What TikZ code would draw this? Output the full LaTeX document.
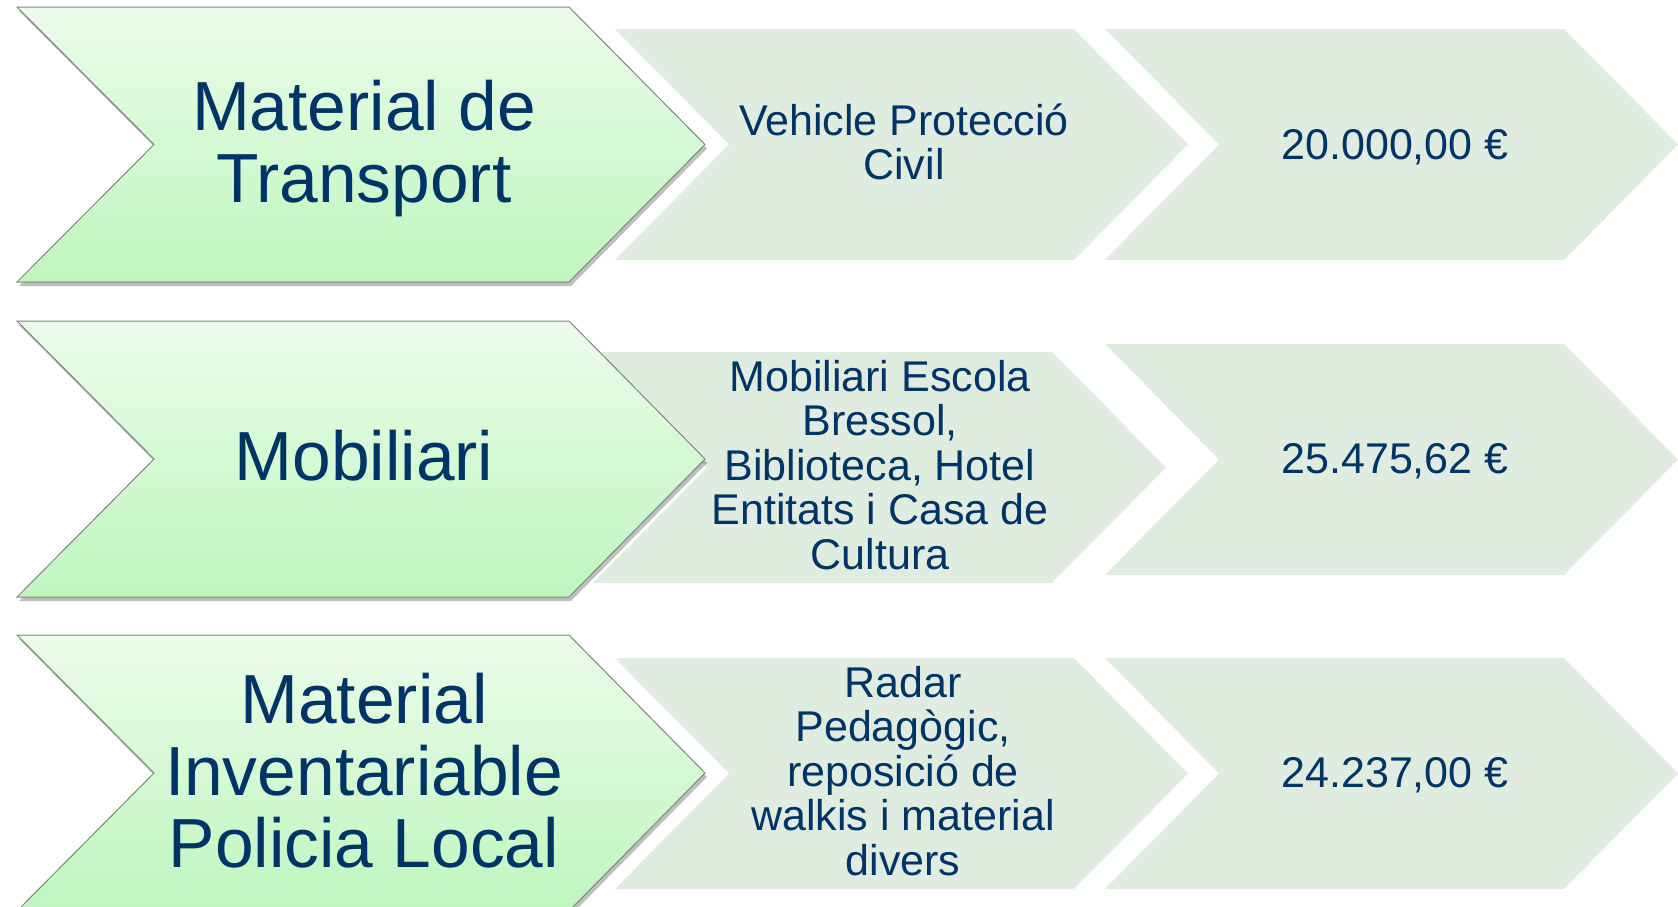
\documentclass[tikz,border=0pt]{standalone}
\usepackage{fontspec}
\setmainfont{Liberation Sans}
\usetikzlibrary{shadows}

\definecolor{navytext}{RGB}{0,51,102}
\definecolor{palefill}{RGB}{224,236,224}
\definecolor{lighttop}{RGB}{236,252,234}
\definecolor{greenbottom}{RGB}{190,246,190}
\definecolor{edgegray}{RGB}{125,135,125}

\begin{document}
\begin{tikzpicture}[x=1pt, y=-1pt,
    catarrow/.style = {draw=edgegray, line width=1pt, top color=lighttop, bottom color=greenbottom,
      drop shadow={shadow xshift=2pt, shadow yshift=-4pt, fill=black, opacity=0.25}},
    palearrow/.style = {fill=palefill},
    cat/.style = {text=navytext, align=center, font=\fontsize{69.5}{72}\selectfont},
    item/.style = {text=navytext, align=center, font=\fontsize{43}{44.5}\selectfont},
    cost/.style = {text=navytext, font=\fontsize{43}{44.5}\selectfont}]
    \clip (0,0) rectangle (1678,906);
    \useasboundingbox (0,0) rectangle (1678,906);
    % pale chevrons (behind)
    \fill[palearrow] (615,29) -- ++(459,0) -- ++(114,115.5) -- ++(-114,115.5) -- ++(-459,0) -- ++(114,-115.5) -- cycle;
    \fill[palearrow] (1105,29) -- ++(459,0) -- ++(114,115.5) -- ++(-114,115.5) -- ++(-459,0) -- ++(114,-115.5) -- cycle;
    \fill[palearrow] (593,352) -- ++(459,0) -- ++(114,115.5) -- ++(-114,115.5) -- ++(-459,0) -- ++(114,-115.5) -- cycle;
    \fill[palearrow] (1105,344) -- ++(459,0) -- ++(114,115.5) -- ++(-114,115.5) -- ++(-459,0) -- ++(114,-115.5) -- cycle;
    \fill[palearrow] (615,658) -- ++(459,0) -- ++(114,115.5) -- ++(-114,115.5) -- ++(-459,0) -- ++(114,-115.5) -- cycle;
    \fill[palearrow] (1105,658) -- ++(459,0) -- ++(114,115.5) -- ++(-114,115.5) -- ++(-459,0) -- ++(114,-115.5) -- cycle;
    % green chevrons
    \draw[catarrow] (17,7) -- ++(552,0) -- ++(136,137.5) -- ++(-136,137.5) -- ++(-552,0) -- ++(137,-137.5) -- cycle;
    \draw[catarrow] (17,321) -- ++(552,0) -- ++(136,138) -- ++(-136,138) -- ++(-552,0) -- ++(137,-138) -- cycle;
    \draw[catarrow] (17,635) -- ++(552,0) -- ++(136,138) -- ++(-136,138) -- ++(-552,0) -- ++(137,-138) -- cycle;
    % texts
    \node[cat] (transport) at (364,149) {Material de\\Transport};
    \node[item] (vehicle) at (904,142) {Vehicle Protecció\\Civil};
    \node[cost] (cost1) at (1395,147) {20.000,00 €};
    \node[cat] (mobiliari) at (364,456) {Mobiliari};
    \node[item] (escola) at (880,465) {Mobiliari Escola\\Bressol,\\Biblioteca, Hotel\\Entitats i Casa de\\Cultura};
    \node[cost] (cost2) at (1395,461) {25.475,62 €};
    \node[cat] (policia) at (364,771) {Material\\Inventariable\\Policia Local};
    \node[item] (radar) at (903,771) {Radar\\Pedagògic,\\reposició de\\walkis i material\\divers};
    \node[cost] (cost3) at (1395,775) {24.237,00 €};
\end{tikzpicture}
\end{document}
